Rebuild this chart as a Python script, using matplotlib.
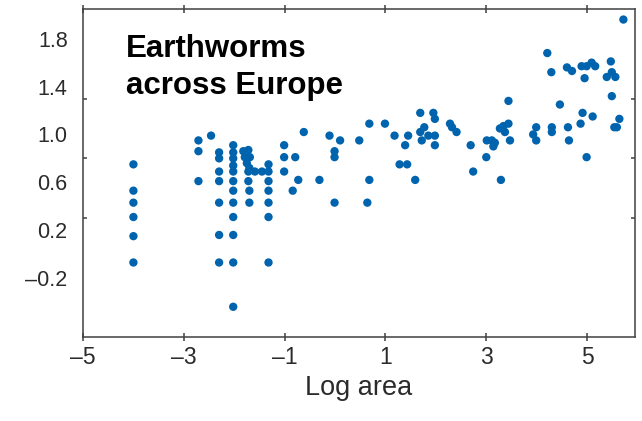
import matplotlib
matplotlib.use("Agg")
import matplotlib.pyplot as plt

plt.rcParams['font.family'] = ['Liberation Sans', 'DejaVu Sans']

# log area of the sampled region and log species richness
log_area = [
    -4.00, -4.00, -4.00, -4.00, -4.00, -4.00,
    -2.71, -2.71, -2.71, -2.46,
    -2.30, -2.30, -2.30, -2.30, -2.30, -2.30, -2.30,
    -2.02, -2.02, -2.02, -2.02, -2.02, -2.02, -2.02, -2.02, -2.02, -2.02, -2.02, -2.02,
    -1.82, -1.72, -1.79, -1.69, -1.75, -1.70, -1.72, -1.72, -1.70, -1.70,
    -1.59, -1.45,
    -1.32, -1.32, -1.32, -1.32, -1.32, -1.32, -1.32,
    -1.01, -1.01, -1.01,
    -0.79, -0.73, -0.84, -0.62, -0.31, -0.11, 0.10, -0.01, -0.01, -0.01,
    0.48, 0.68, 0.68, 0.64, 0.99, 1.18, 1.45, 1.39, 1.28, 1.43, 1.59,
    1.69, 1.95, 1.98, 1.69, 1.77, 1.72, 1.85, 1.98, 1.98,
    2.28, 2.32, 2.41, 2.69, 2.74,
    3.01, 3.11, 3.17, 3.14, 3.00, 3.29, 3.27, 3.34, 3.44, 3.37, 3.47, 3.44,
    3.99, 3.93, 3.99, 4.30, 4.30, 4.62, 4.64, 4.99, 4.87, 4.91, 5.11, 4.46,
    4.21, 4.29, 4.60, 4.70, 4.89, 4.99, 5.09, 5.16, 4.95,
    5.47, 5.39, 5.49, 5.56, 5.49, 5.64, 5.54, 5.59, 5.72,
]
log_richness = [
    0.75, 0.53, 0.43, 0.31, 0.15, -0.07,
    0.95, 0.86, 0.61, 0.99,
    0.85, 0.80, 0.69, 0.61, 0.43, 0.16, -0.07,
    0.91, 0.85, 0.80, 0.74, 0.69, 0.61, 0.53, 0.43, 0.31, 0.16, -0.07, -0.44,
    0.86, 0.87, 0.81, 0.81, 0.76, 0.72, 0.69, 0.61, 0.53, 0.43,
    0.69, 0.69,
    0.75, 0.69, 0.61, 0.53, 0.43, 0.31, -0.07,
    0.91, 0.81, 0.69,
    0.81, 0.62, 0.53, 1.02, 0.62, 0.99, 0.95, 0.86, 0.81, 0.43,
    0.95, 1.09, 0.62, 0.43, 1.09, 0.99, 0.99, 0.91, 0.75, 0.75, 0.62,
    1.18, 1.18, 1.13, 1.02, 1.06, 0.95, 0.99, 0.99, 0.91,
    1.09, 1.06, 1.02, 0.91, 0.69,
    0.95, 0.95, 0.93, 0.90, 0.81, 0.62, 1.05, 1.07, 1.09, 1.02, 0.95, 1.28,
    1.06, 1.00, 0.95, 1.06, 1.02, 1.06, 0.95, 0.81, 1.09, 1.18, 1.15, 1.25,
    1.68, 1.52, 1.56, 1.53, 1.57, 1.57, 1.60, 1.57, 1.47,
    1.61, 1.48, 1.52, 1.48, 1.32, 1.13, 1.06, 1.06, 1.96,
]

x_ticks = [-5, -3, -1, 1, 3, 5]
x_labels = ['\u20135', '\u20133', '\u20131', '1', '3', '5']
y_ticks = [-0.2, 0.2, 0.6, 1.0, 1.4, 1.8]
y_labels = ['\u20130.2', '0.2', '0.6', '1.0', '1.4', '1.8']
y_marks = [-0.2, 0.3, 0.8, 1.3, 1.8]

fig = plt.figure(figsize=(6.42, 4.21), dpi=100)
ax = fig.add_axes([83 / 642, 1 - 336.7 / 421, (635 - 83) / 642, (336.7 - 9) / 421])

ax.scatter(log_area, log_richness, s=36, color='#0063ad', edgecolors='none', zorder=3)

ax.set_xlim(-5, 5.95)
ax.set_ylim(-0.69, 2.048)

ax.set_xticks(x_ticks)
ax.set_xticklabels(x_labels)
ax.set_yticks(y_ticks)
ax.set_yticklabels(y_labels)
ax.set_yticks(y_marks, minor=True)

ax.tick_params(axis='x', which='major', direction='inout', length=6, width=1.1,
               top=True, color='#404040', labelsize=16.5, labelcolor='#2b2b2b', pad=4)
ax.tick_params(axis='y', which='major', length=0, labelsize=15.5,
               labelcolor='#2b2b2b', pad=11)
ax.tick_params(axis='y', which='minor', direction='in', length=3.2, width=1.1,
               left=True, right=True, color='#404040')

for side in ax.spines.values():
    side.set_color('#404040')
    side.set_linewidth(1.1)

ax.set_xlabel('Log area', fontsize=19.5, color='#2b2b2b', labelpad=4)

fig.text(126 / 642, 1 - 57 / 421, 'Earthworms', fontsize=22.5, fontweight='bold',
         color='black', va='baseline', ha='left')
fig.text(126 / 642, 1 - 94 / 421, 'across Europe', fontsize=22.5, fontweight='bold',
         color='black', va='baseline', ha='left')

fig.savefig('out.png', dpi=100)
